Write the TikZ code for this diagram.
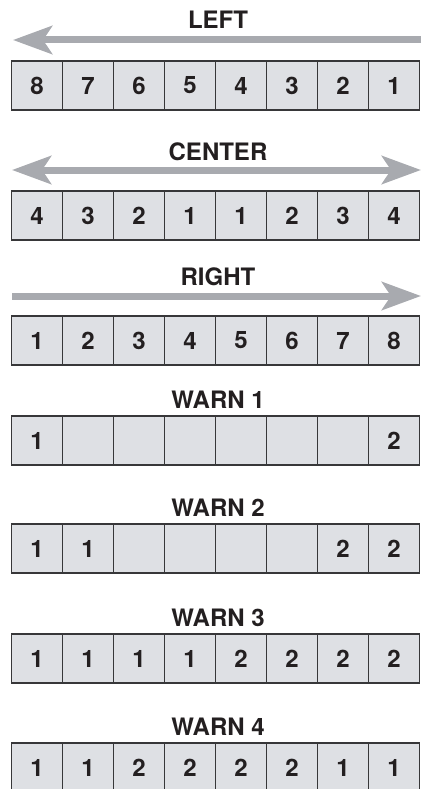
\documentclass[tikz,border=0pt]{standalone}
\usepackage{fontspec}
\setmainfont{TeX Gyre Heros}
\usetikzlibrary{arrows.meta}

\definecolor{cellfill}{RGB}{222,224,228}
\definecolor{cellline}{RGB}{55,55,57}
\definecolor{arrowgray}{RGB}{168,170,175}
\definecolor{textdark}{RGB}{35,31,32}

\begin{document}
\begin{tikzpicture}[x=1pt,y=-1pt,
  cell/.style={draw=cellline,fill=cellfill,line width=1.5pt,minimum width=51pt,
    minimum height=49pt,inner sep=0pt,text=textdark,font=\fontsize{24}{24}\selectfont\bfseries},
  rowtitle/.style={inner sep=0pt,text=textdark,font=\fontsize{24}{24}\selectfont\bfseries},
  bigarrow/.style={line width=7pt,draw=arrowgray,-{Stealth[length=39pt,width=28pt,inset=9pt]}},
  bothway/.style={line width=7pt,draw=arrowgray,{Stealth[length=39pt,width=28pt,inset=9pt]}-{Stealth[length=39pt,width=28pt,inset=9pt]}}]

  \useasboundingbox (0,0) rectangle (423,789);

  \node[rowtitle] at(218,20)(title1){LEFT};
  \node[rowtitle] at(218,152)(title2){CENTER};
  \node[rowtitle] at(218,277)(title3){RIGHT};
  \node[rowtitle] at(218,400)(title4){WARN 1};
  \node[rowtitle] at(218,508)(title5){WARN 2};
  \node[rowtitle] at(218,618)(title6){WARN 3};
  \node[rowtitle] at(218,727)(title7){WARN 4};

  % arrow ends
  \coordinate (la) at (421,40);
  \coordinate (lb) at (13,40);
  \coordinate (ca) at (12,170);
  \coordinate (cb) at (421,170);
  \coordinate (ra) at (12,296);
  \coordinate (rb) at (421,296);

  % Nodes
  \node[cell] at(37,85.5)(l1){8};
  \node[cell] at(88,85.5)(l2){7};
  \node[cell] at(139,85.5)(l3){6};
  \node[cell] at(190,85.5)(l4){5};
  \node[cell] at(241,85.5)(l5){4};
  \node[cell] at(292,85.5)(l6){3};
  \node[cell] at(343,85.5)(l7){2};
  \node[cell] at(394,85.5)(l8){1};

  \node[cell] at(37,215.5)(c1){4};
  \node[cell] at(88,215.5)(c2){3};
  \node[cell] at(139,215.5)(c3){2};
  \node[cell] at(190,215.5)(c4){1};
  \node[cell] at(241,215.5)(c5){1};
  \node[cell] at(292,215.5)(c6){2};
  \node[cell] at(343,215.5)(c7){3};
  \node[cell] at(394,215.5)(c8){4};

  \node[cell] at(37,340.5)(r1){1};
  \node[cell] at(88,340.5)(r2){2};
  \node[cell] at(139,340.5)(r3){3};
  \node[cell] at(190,340.5)(r4){4};
  \node[cell] at(241,340.5)(r5){5};
  \node[cell] at(292,340.5)(r6){6};
  \node[cell] at(343,340.5)(r7){7};
  \node[cell] at(394,340.5)(r8){8};

  \node[cell] at(37,440.5)(wa1){1};
  \node[cell] at(88,440.5)(wa2){};
  \node[cell] at(139,440.5)(wa3){};
  \node[cell] at(190,440.5)(wa4){};
  \node[cell] at(241,440.5)(wa5){};
  \node[cell] at(292,440.5)(wa6){};
  \node[cell] at(343,440.5)(wa7){};
  \node[cell] at(394,440.5)(wa8){2};

  \node[cell] at(37,548.5)(wb1){1};
  \node[cell] at(88,548.5)(wb2){1};
  \node[cell] at(139,548.5)(wb3){};
  \node[cell] at(190,548.5)(wb4){};
  \node[cell] at(241,548.5)(wb5){};
  \node[cell] at(292,548.5)(wb6){};
  \node[cell] at(343,548.5)(wb7){2};
  \node[cell] at(394,548.5)(wb8){2};

  \node[cell] at(37,658.5)(wc1){1};
  \node[cell] at(88,658.5)(wc2){1};
  \node[cell] at(139,658.5)(wc3){1};
  \node[cell] at(190,658.5)(wc4){1};
  \node[cell] at(241,658.5)(wc5){2};
  \node[cell] at(292,658.5)(wc6){2};
  \node[cell] at(343,658.5)(wc7){2};
  \node[cell] at(394,658.5)(wc8){2};

  \node[cell] at(37,767.5)(wd1){1};
  \node[cell] at(88,767.5)(wd2){1};
  \node[cell] at(139,767.5)(wd3){2};
  \node[cell] at(190,767.5)(wd4){2};
  \node[cell] at(241,767.5)(wd5){2};
  \node[cell] at(292,767.5)(wd6){2};
  \node[cell] at(343,767.5)(wd7){1};
  \node[cell] at(394,767.5)(wd8){1};

  % direction arrows
  \draw[bigarrow] (la) -- (lb);
  \draw[bothway] (ca) -- (cb);
  \draw[bigarrow] (ra) -- (rb);

\end{tikzpicture}
\end{document}
